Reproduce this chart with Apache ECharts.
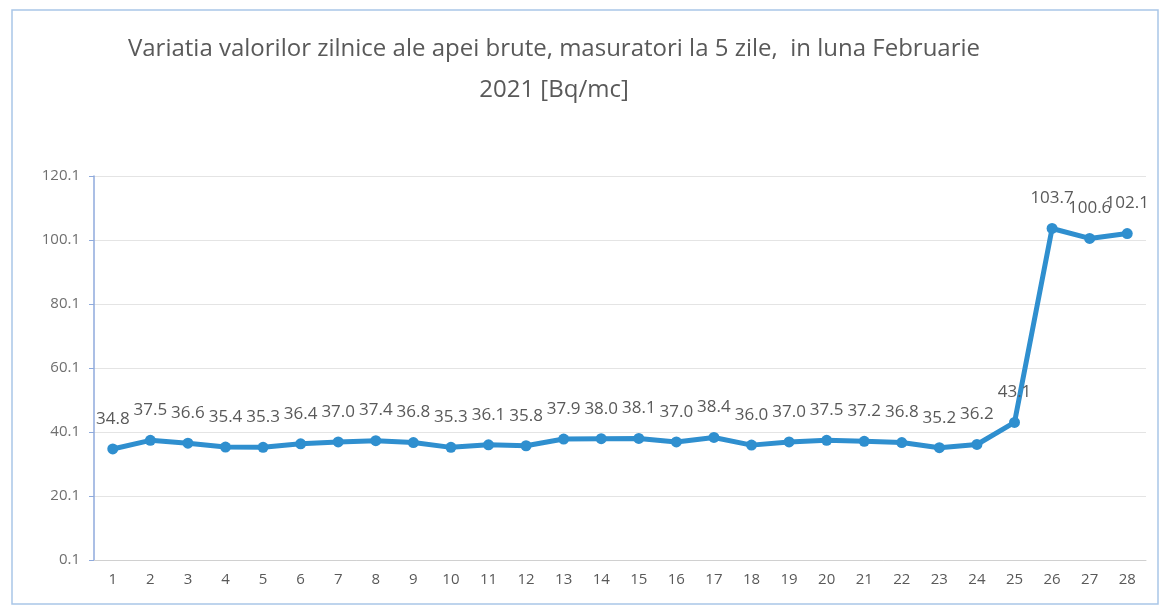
<!DOCTYPE html>
<html>
<head>
<meta charset="utf-8">
<script src="https://cdn.jsdelivr.net/npm/echarts@6/dist/echarts.min.js"></script>
<style>
  html, body { margin: 0; padding: 0; background: #ffffff; }
  #chart { width: 1163px; height: 608px; }
</style>
</head>
<body>
<div id="chart"></div>
<script>
// Daily raw-water activity, February 2021 [Bq/mc]
const days = ['1','2','3','4','5','6','7','8','9','10','11','12','13','14',
              '15','16','17','18','19','20','21','22','23','24','25','26','27','28'];
const values = [34.8, 37.5, 36.6, 35.4, 35.3, 36.4, 37.0, 37.4, 36.8, 35.3, 36.1, 35.8, 37.9, 38.0,
                38.1, 37.0, 38.4, 36.0, 37.0, 37.5, 37.2, 36.8, 35.2, 36.2, 43.1, 103.7, 100.6, 102.1];
const yTicks = [0.1, 20.1, 40.1, 60.1, 80.1, 100.1, 120.1];

const chart = echarts.init(document.getElementById('chart'));
chart.setOption({
  backgroundColor: '#ffffff',
  animation: false,
  title: {
    text: 'Variatia valorilor zilnice ale apei brute, masuratori la 5 zile,  in luna Februarie\n2021 [Bq/mc]',
    left: 549,
    top: 24,
    textAlign: 'center',
    textStyle: {
      fontFamily: '"Open Sans", sans-serif',
      fontSize: 24,
      fontWeight: 'normal',
      color: '#595959',
      lineHeight: 41
    }
  },
  graphic: [{
    type: 'rect',
    shape: { x: 12, y: 10, width: 1146, height: 594 },
    style: { fill: 'none', stroke: '#a9c6e8', lineWidth: 1.5 }
  }],
  grid: { left: 94, right: 17, top: 176, bottom: 48 },
  xAxis: {
    type: 'category',
    data: days,
    boundaryGap: true,
    axisLine: { lineStyle: { color: '#d0d0d0' } },
    axisTick: { show: false },
    axisLabel: {
      color: '#595959',
      fontFamily: '"Open Sans", sans-serif',
      fontSize: 15,
      margin: 12
    }
  },
  yAxis: {
    type: 'value',
    min: yTicks[0],
    max: yTicks[yTicks.length - 1],
    interval: 20,
    axisLine: { show: true, lineStyle: { color: '#8faadc', width: 1.5 } },
    axisTick: { show: true, length: 5, lineStyle: { color: '#8faadc' } },
    axisLabel: {
      color: '#6f6f6f',
      fontFamily: '"Open Sans", sans-serif',
      fontSize: 15,
      margin: 14,
      formatter: v => v.toFixed(1)
    },
    splitLine: { lineStyle: { color: '#e4e4e4', width: 1 } }
  },
  series: [{
    type: 'line',
    data: values,
    symbol: 'circle',
    symbolSize: 11,
    lineStyle: { color: '#2f8fcf', width: 5 },
    itemStyle: { color: '#2f8fcf' },
    label: {
      show: true,
      position: 'top',
      distance: 16,
      color: '#595959',
      fontFamily: '"Open Sans", sans-serif',
      fontSize: 17,
      formatter: p => p.value.toFixed(1)
    }
  }]
});
</script>
</body>
</html>
